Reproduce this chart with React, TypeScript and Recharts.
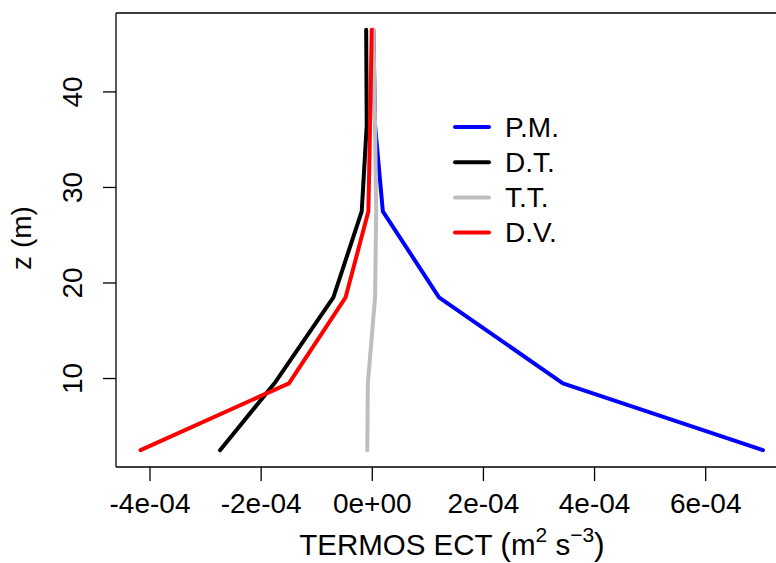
import { LineChart, Line, XAxis, YAxis, ReferenceLine, Legend } from "recharts";

// altura (m) de cada nivel
const zLevels = [2.5, 9.5, 18.5, 27.5, 36.5, 46.5];

// termos da equacao de ECT (m2 s-3) por nivel
const pmValues = [7.03e-4, 3.43e-4, 1.2e-4, 0.19e-4, 0.05e-4, 0.02e-4];
const dtValues = [-2.74e-4, -1.76e-4, -0.7e-4, -0.19e-4, -0.1e-4, -0.11e-4];
const ttValues = [-0.09e-4, -0.08e-4, 0.05e-4, 0.07e-4, 0.05e-4, 0.02e-4];
const dvValues = [-4.17e-4, -1.5e-4, -0.48e-4, -0.07e-4, -0.04e-4, -0.01e-4];

const seriesNames = ["P.M.", "D.T.", "T.T.", "D.V."];
const seriesColors = ["#0000ff", "#000000", "#bebebe", "#ff0000"];
const seriesValues = [pmValues, dtValues, ttValues, dvValues];

const xTicks = [-4e-4, -2e-4, 0, 2e-4, 4e-4, 6e-4];
const xTickLabels = ["-4e-04", "-2e-04", "0e+00", "2e-04", "4e-04", "6e-04"];
const yTicks = [10, 20, 30, 40];

const X_DOMAIN: [number, number] = [-4.612e-4, 7.265e-4];
const Y_DOMAIN: [number, number] = [0.74, 48.26];

const FONT = '"Liberation Sans", Arial, Helvetica, sans-serif';

const series = seriesValues.map((vals) => zLevels.map((z, i) => ({ x: vals[i], z })));

const XTick = ({ x, y, payload }: any) => (
  <text x={x} y={y + 30} textAnchor="middle" fontSize={28} fill="#000" fontFamily={FONT}>
    {xTickLabels[xTicks.indexOf(payload.value)]}
  </text>
);

const YTick = ({ x, y, payload }: any) => (
  <text
    x={x - 19}
    y={y}
    transform={`rotate(-90, ${x - 19}, ${y})`}
    textAnchor="middle"
    fontSize={28}
    fill="#000"
    fontFamily={FONT}
  >
    {payload.value}
  </text>
);

const XTitle = ({ viewBox }: any) => (
  <text x={viewBox.x + 336} y={555} textAnchor="middle" fontSize={29.5} fill="#000" fontFamily={FONT}>
    TERMOS ECT <tspan fontSize={32}>(</tspan>
    <tspan>m</tspan>
    <tspan fontSize={21} dy={-13}>2</tspan>
    <tspan dy={13}> s</tspan>
    <tspan fontSize={21} dy={-13}>−3</tspan>
    <tspan fontSize={32} dy={13}>)</tspan>
  </text>
);

const YTitle = () => (
  <text x={31} y={238} transform="rotate(-90, 31, 238)" textAnchor="middle" fontSize={28} fill="#000" fontFamily={FONT}>
    z (m)
  </text>
);

const LegendBox = () => (
  <svg width={220} height={150}>
    {seriesNames.map((name, i) => (
      <g key={name}>
        <line
          x1={15}
          x2={49}
          y1={22 + i * 35.2}
          y2={22 + i * 35.2}
          stroke={seriesColors[i]}
          strokeWidth={4}
          strokeLinecap="round"
        />
        <text x={65} y={22 + i * 35.2} dominantBaseline="central" fontSize={28} fill="#000" fontFamily={FONT}>
          {name}
        </text>
      </g>
    ))}
  </svg>
);

export default function App() {
  return (
    <div style={{ position: "absolute", left: 0, top: 0, width: 776, height: 563, background: "#fff" }}>
      <LineChart width={776} height={563} margin={{ top: 13, right: 0, bottom: 0, left: 0 }} style={{ fontFamily: FONT }}>
        <XAxis
          type="number"
          dataKey="x"
          domain={X_DOMAIN}
          ticks={xTicks}
          allowDataOverflow
          height={96}
          tickSize={14}
          tick={<XTick />}
          axisLine={{ stroke: "#000", strokeWidth: 1.3 }}
          tickLine={{ stroke: "#000", strokeWidth: 1.3 }}
          label={<XTitle />}
        />
        <YAxis
          type="number"
          dataKey="z"
          domain={Y_DOMAIN}
          ticks={yTicks}
          allowDataOverflow
          width={116}
          tickSize={13}
          tick={<YTick />}
          axisLine={{ stroke: "#000", strokeWidth: 1.3 }}
          tickLine={{ stroke: "#000", strokeWidth: 1.3 }}
          label={<YTitle />}
        />
        <ReferenceLine y={Y_DOMAIN[1]} stroke="#000" strokeWidth={1.3} />
        {series.map((data, i) => (
          <Line
            key={seriesNames[i]}
            data={data}
            dataKey="z"
            name={seriesNames[i]}
            stroke={seriesColors[i]}
            strokeWidth={4}
            strokeLinecap="round"
            strokeLinejoin="round"
            dot={false}
            activeDot={false}
            isAnimationActive={false}
          />
        ))}
        <Legend
          layout="vertical"
          align="center"
          verticalAlign="middle"
          content={<LegendBox />}
          wrapperStyle={{ left: 440, top: 105, width: 220, height: 150 }}
        />
      </LineChart>
    </div>
  );
}
